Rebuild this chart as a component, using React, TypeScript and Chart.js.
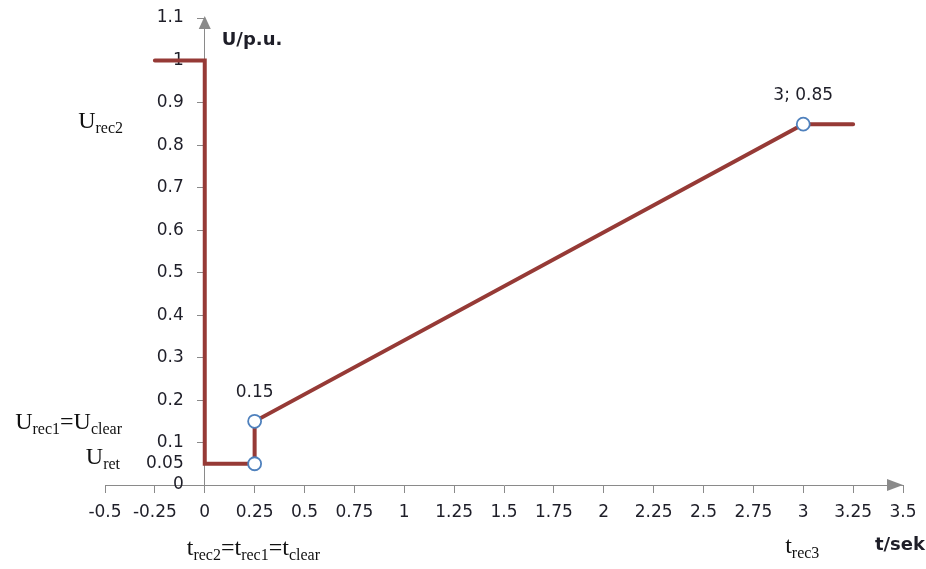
import { useEffect, useRef } from "react";
import { Chart, registerables } from "chart.js";

Chart.register(...registerables);

// ---- data ----
const xValues = [-0.25, 0, 0, 0.25, 0.25, 3, 3.25];
const yValues = [1, 1, 0.05, 0.05, 0.15, 0.85, 0.85];
const markerRadius = [0, 0, 0, 6.5, 6.5, 6.5, 0];
const pointLabels = ["", "", "", "", "0.15", "3; 0.85", ""];

const xTicks = [-0.5, -0.25, 0, 0.25, 0.5, 0.75, 1, 1.25, 1.5, 1.75, 2, 2.25, 2.5, 2.75, 3, 3.25, 3.5];
const yTicks = [0, 0.05, 0.1, 0.2, 0.3, 0.4, 0.5, 0.6, 0.7, 0.8, 0.9, 1, 1.1];
const yTicksWithoutMark = [0.05];

const xTitle = "t/sek";
const yTitle = "U/p.u.";

// rich labels: [main, subscript] pairs
const uRec2: [string, string][] = [["U", "rec2"]];
const uRec1Clear: [string, string][] = [["U", "rec1"], ["=U", "clear"]];
const uRet: [string, string][] = [["U", "ret"]];
const tRec: [string, string][] = [["t", "rec2"], ["=t", "rec1"], ["=t", "clear"]];
const tRec3: [string, string][] = [["t", "rec3"]];

const LINE = "#963a36";
const AXIS = "#8a8a8a";
const TEXT = "#1e1e28";
const TICK_FONT = "DejaVu Sans";
const TICK_SIZE = 17;

const MAIN_FONT = "24px 'Liberation Serif'";
const SUB_FONT = "16px 'Liberation Serif'";

function drawRich(
  ctx: CanvasRenderingContext2D,
  parts: [string, string][],
  x: number,
  y: number,
  align: "left" | "right" | "center"
) {
  let w = 0;
  for (const [m, s] of parts) {
    ctx.font = MAIN_FONT;
    w += ctx.measureText(m).width;
    ctx.font = SUB_FONT;
    w += ctx.measureText(s).width;
  }
  let cx = align === "right" ? x - w : align === "center" ? x - w / 2 : x;
  ctx.textAlign = "left";
  ctx.textBaseline = "alphabetic";
  for (const [m, s] of parts) {
    ctx.font = MAIN_FONT;
    ctx.fillText(m, cx, y);
    cx += ctx.measureText(m).width;
    ctx.font = SUB_FONT;
    ctx.fillText(s, cx, y + 5);
    cx += ctx.measureText(s).width;
  }
}

const decorPlugin = {
  id: "decor",
  beforeDatasetsDraw(chart: any) {
    // y tick labels, to the left of the y axis placed at x = 0
    const { ctx, scales } = chart;
    const xs = scales.x;
    const ys = scales.y;
    const x0 = xs.getPixelForValue(0);
    ctx.save();
    ctx.fillStyle = TEXT;
    ctx.font = `${TICK_SIZE}px '${TICK_FONT}'`;
    ctx.textAlign = "right";
    ctx.textBaseline = "middle";
    ys.ticks.forEach((t: any) => {
      ctx.fillText(String(t.value), x0 - 21, ys.getPixelForValue(t.value));
    });
    ctx.restore();
  },
  afterDraw(chart: any) {
    const { ctx, chartArea, scales } = chart;
    const xs = scales.x;
    const ys = scales.y;
    const x0 = xs.getPixelForValue(0);
    const y0 = ys.getPixelForValue(0);
    ctx.save();
    // arrows
    ctx.fillStyle = AXIS;
    ctx.beginPath();
    ctx.moveTo(x0, chartArea.top - 2);
    ctx.lineTo(x0 - 6, chartArea.top + 11);
    ctx.lineTo(x0 + 6, chartArea.top + 11);
    ctx.closePath();
    ctx.fill();
    ctx.beginPath();
    ctx.moveTo(chartArea.right, y0);
    ctx.lineTo(chartArea.right - 16, y0 - 6);
    ctx.lineTo(chartArea.right - 16, y0 + 6);
    ctx.closePath();
    ctx.fill();

    // axis titles
    ctx.fillStyle = TEXT;
    ctx.font = `bold 18px '${TICK_FONT}'`;
    ctx.textBaseline = "alphabetic";
    ctx.textAlign = "left";
    ctx.fillText(yTitle, x0 + 17, chartArea.top + 27);
    ctx.textAlign = "right";
    ctx.fillText(xTitle, chartArea.right + 22, y0 + 65);

    // point labels
    const meta = chart.getDatasetMeta(0);
    ctx.font = `${TICK_SIZE}px '${TICK_FONT}'`;
    ctx.textAlign = "center";
    ctx.textBaseline = "middle";
    pointLabels.forEach((lbl, i) => {
      if (!lbl) return;
      const el = meta.data[i];
      ctx.fillText(lbl, el.x, el.y - 29);
    });

    // serif annotations
    ctx.fillStyle = "#111";
    const left = chartArea.left;
    drawRich(ctx, uRec2, left + 18, ys.getPixelForValue(0.85) + 4, "right");
    drawRich(ctx, uRec1Clear, left + 17, ys.getPixelForValue(0.15) + 8, "right");
    drawRich(ctx, uRet, left + 15, ys.getPixelForValue(0.05), "right");
    drawRich(ctx, tRec, x0 - 18, y0 + 70, "left");
    drawRich(ctx, tRec3, xs.getPixelForValue(3) - 1, y0 + 68, "center");
    ctx.restore();
  },
};

export default function App() {
  const ref = useRef<HTMLCanvasElement | null>(null);
  useEffect(() => {
    if (!ref.current) return;
    const chart = new Chart(ref.current, {
      type: "scatter",
      data: {
        datasets: [
          {
            data: xValues.map((x, i) => ({ x, y: yValues[i] })),
            showLine: true,
            borderColor: LINE,
            borderWidth: 4,
            borderCapStyle: "round",
            borderJoinStyle: "miter",
            pointRadius: markerRadius,
            pointHoverRadius: markerRadius,
            pointBackgroundColor: "#ffffff",
            pointBorderColor: "#4f81bd",
            pointBorderWidth: 1.8,
            tension: 0,
          } as any,
        ],
      },
      options: {
        responsive: false,
        animation: false,
        events: [],
        layout: { padding: { left: 105, right: 23, top: 18, bottom: 0 } },
        plugins: { legend: { display: false }, tooltip: { enabled: false } },
        scales: {
          x: {
            type: "linear",
            position: "bottom",
            min: xTicks[0],
            max: xTicks[xTicks.length - 1],
            afterBuildTicks: (s: any) => {
              s.ticks = xTicks.map((v) => ({ value: v }));
            },
            afterFit: (s: any) => {
              s.height = 84;
            },
            grid: { drawOnChartArea: false, drawTicks: true, tickLength: 8, color: AXIS, tickColor: AXIS },
            border: { display: true, color: AXIS, width: 1 },
            ticks: {
              autoSkip: false,
              maxRotation: 0,
              padding: 9,
              color: TEXT,
              font: { family: TICK_FONT, size: TICK_SIZE },
              callback: (v: any) => String(v),
            },
          },
          y: {
            type: "linear",
            position: { x: 0 } as any,
            min: yTicks[0],
            max: yTicks[yTicks.length - 1],
            afterBuildTicks: (s: any) => {
              s.ticks = yTicks.map((v) => ({ value: v }));
            },
            grid: {
              drawOnChartArea: false,
              drawTicks: true,
              tickLength: 7,
              color: AXIS,
              tickColor: (c: any) =>
                c.tick && yTicksWithoutMark.includes(c.tick.value) ? "rgba(0,0,0,0)" : AXIS,
            },
            border: { display: true, color: AXIS, width: 1 },
            ticks: { display: false, autoSkip: false },
          },
        },
      },
      plugins: [decorPlugin],
    });
    return () => chart.destroy();
  }, []);
  return (
    <canvas
      ref={ref}
      width={926}
      height={569}
      style={{ position: "absolute", left: 0, top: 0, width: 926, height: 569 }}
    />
  );
}
